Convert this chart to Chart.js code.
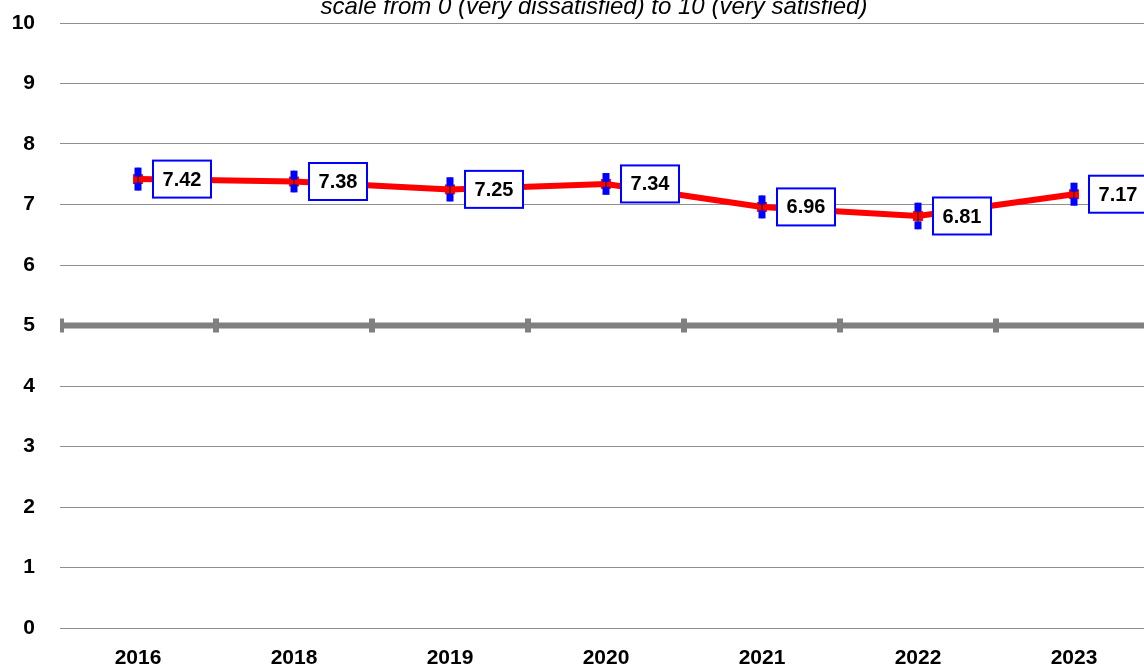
<!DOCTYPE html>
<html>
<head>
<meta charset="utf-8">
<script src="https://cdn.jsdelivr.net/npm/chart.js@4/dist/chart.umd.min.js"></script>
<style>
  html, body { margin: 0; padding: 0; background: #fff; overflow: hidden; }
  .chart-wrap { position: relative; width: 1152px; height: 666px; }
</style>
</head>
<body>
<div class="chart-wrap"><canvas id="c"></canvas></div>
<script>
const years = ['2016', '2018', '2019', '2020', '2021', '2022', '2023'];
const scores = [7.42, 7.38, 7.25, 7.34, 6.96, 6.81, 7.17];
const errs = [0.19, 0.18, 0.20, 0.18, 0.19, 0.22, 0.19];
const midpoint = 5;
const subtitle = 'scale from 0 (very dissatisfied) to 10 (very satisfied)';

const FONT = '"Liberation Sans", Arial, sans-serif';
const GRID = '#8e8e8e';

// gray reference line at the scale midpoint, ticks on category boundaries
const midLine = {
  id: 'midLine',
  beforeDatasetsDraw(chart) {
    const { ctx, chartArea: a, scales: { x, y } } = chart;
    const py = y.getPixelForValue(midpoint);
    const half = (x.getPixelForValue(1) - x.getPixelForValue(0)) / 2;
    ctx.save();
    ctx.fillStyle = '#808080';
    ctx.fillRect(a.left, py - 3, a.right - a.left, 6);
    for (let i = 0; i <= years.length; i++) {
      const px = i === 0 ? a.left : x.getPixelForValue(i - 1) + half;
      ctx.fillRect(Math.round(px) - (i === 0 ? 0 : 3), py - 7, i === 0 ? 4 : 6, 14);
    }
    ctx.restore();
  }
};

// error bars with blue caps, then boxed value labels
const marks = {
  id: 'marks',
  afterDatasetsDraw(chart) {
    const { ctx, scales: { x, y } } = chart;
    ctx.save();
    scores.forEach((v, i) => {
      const px = Math.round(x.getPixelForValue(i));
      const top = y.getPixelForValue(v + errs[i]);
      const bot = y.getPixelForValue(v - errs[i]);
      ctx.fillStyle = '#000';
      ctx.fillRect(px - 0.5, top, 1, bot - top);
      ctx.fillStyle = '#0000ff';
      ctx.fillRect(px - 3.5, top, 7, 9);
      ctx.fillRect(px - 3.5, bot - 8, 7, 8);

      const py = y.getPixelForValue(v);
      const bx = px + 15, bw = 58, bh = 37;
      ctx.fillStyle = '#fff';
      ctx.fillRect(bx, py - bh / 2, bw, bh);
      ctx.strokeStyle = '#0000ff';
      ctx.lineWidth = 2;
      ctx.strokeRect(bx, py - bh / 2, bw, bh);
      ctx.fillStyle = '#000';
      ctx.font = 'bold 20px ' + FONT;
      ctx.textAlign = 'center';
      ctx.textBaseline = 'middle';
      ctx.fillText(v.toFixed(2), bx + bw / 2, py + 1);
    });
    ctx.restore();
  }
};

const topText = {
  id: 'topText',
  afterDraw(chart) {
    const { ctx } = chart;
    ctx.save();
    ctx.font = 'italic 24px ' + FONT;
    ctx.fillStyle = '#000';
    ctx.textAlign = 'center';
    ctx.textBaseline = 'alphabetic';
    ctx.fillText(subtitle, 594, 14);
    ctx.restore();
  }
};

new Chart(document.getElementById('c'), {
  type: 'line',
  data: {
    labels: years,
    datasets: [{
      data: scores,
      borderColor: '#ff0000',
      backgroundColor: '#ff0000',
      borderWidth: 6,
      pointStyle: 'rect',
      pointRadius: 7,
      pointBorderWidth: 0,
      tension: 0,
      fill: false
    }]
  },
  options: {
    responsive: true, maintainAspectRatio: false, animation: false,
    layout: { autoPadding: false, padding: { top: 23, right: 0, left: 0, bottom: 0 } },
    plugins: { legend: { display: false }, tooltip: { enabled: false } },
    scales: {
      x: {
        offset: true,
        grid: { display: false, drawTicks: false },
        border: { display: false },
        ticks: { color: '#000', padding: 18, font: { family: FONT, size: 21, weight: 'bold' } },
        afterFit: s => { s.height = 38; s.paddingLeft = 0; s.paddingRight = 0; }
      },
      y: {
        min: 0, max: 10,
        grid: { color: GRID, lineWidth: 1, drawTicks: false },
        border: { display: false },
        ticks: { stepSize: 1, color: '#000', padding: 25, font: { family: FONT, size: 21, weight: 'bold' } },
        afterFit: s => { s.width = 60; s.paddingTop = 0; s.paddingBottom = 0; }
      }
    }
  },
  plugins: [midLine, marks, topText]
});
</script>
</body>
</html>
